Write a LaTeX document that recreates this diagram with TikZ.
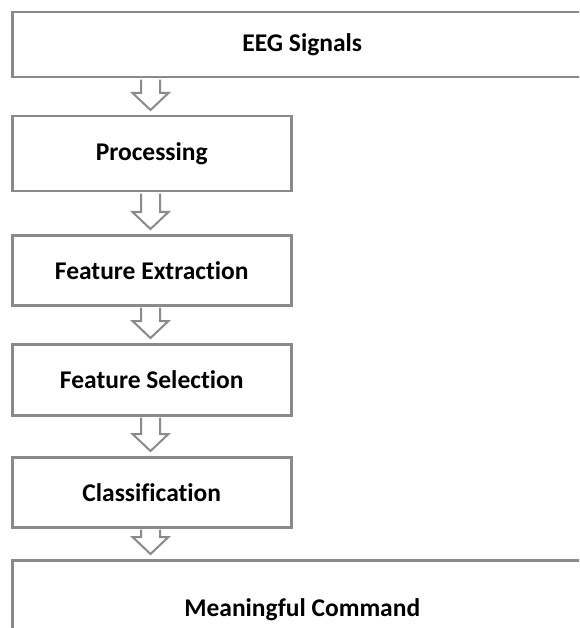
\documentclass[tikz,border=0pt]{standalone}
\usepackage{fontspec}
\setmainfont[Ligatures=NoCommon]{Carlito}
\usetikzlibrary{calc}
\definecolor{linegray}{RGB}{138,138,138}
\newcommand\flowarrow[2]{%
  \filldraw[flow]
    ($(#1.south -| col)+(-9.5,1.2)$) --
    ($(#2.north -| col)+(-9.5,-22)$) --
    ($(#2.north -| col)+(-18,-22)$) --
    ($(#2.north -| col)+(0,-5)$) --
    ($(#2.north -| col)+(18,-22)$) --
    ($(#2.north -| col)+(9.5,-22)$) --
    ($(#1.south -| col)+(9.5,1.2)$);}
\begin{document}
\begin{tikzpicture}[x=1pt,y=-1pt,
  stage/.style={draw=linegray,line width=2.5pt,fill=white,
    font=\fontsize{25.5}{30}\selectfont\bfseries,text=black,
    inner sep=0pt,anchor=north west,minimum width=279},
  flow/.style={draw=linegray,line width=2pt,fill=white,line join=miter}]
\useasboundingbox (0,0) rectangle (579,628);
\clip (0,0) rectangle (579,628);
\coordinate (col) at (150.5,0);
\node[stage,minimum width=580,minimum height=65] (eeg) at (11,11) {EEG Signals};
\node[stage,minimum height=75] (proc) at (11,115) {Processing};
\node[stage,minimum height=70] (fext) at (11,234) {Feature Extraction};
\node[stage,minimum height=71] (fsel) at (11,343) {Feature Selection};
\node[stage,minimum height=70] (clas) at (11,456) {Classification};
\node[stage,minimum width=580,minimum height=98] (cmd) at (11,559) {Meaningful Command};
\flowarrow{eeg}{proc}
\flowarrow{proc}{fext}
\flowarrow{fext}{fsel}
\flowarrow{fsel}{clas}
\flowarrow{clas}{cmd}
\end{tikzpicture}
\end{document}
